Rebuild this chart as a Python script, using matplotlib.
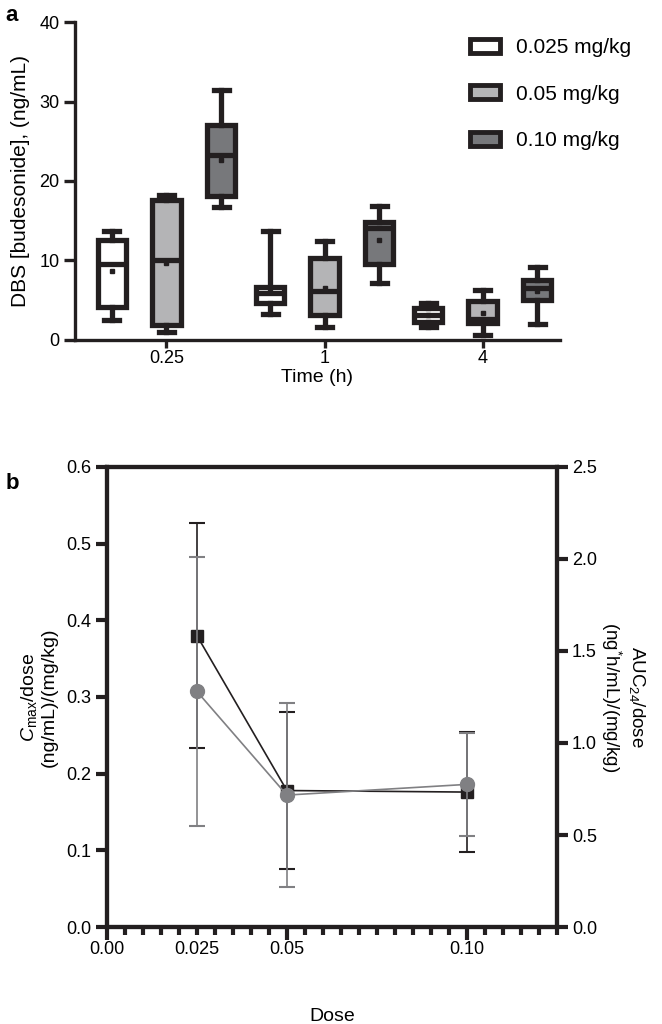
import matplotlib.pyplot as plt
import numpy as np
from matplotlib.patches import Patch
from matplotlib.ticker import FormatStrFormatter, MultipleLocator

plt.rcParams["font.family"] = ["Liberation Sans", "DejaVu Sans"]
plt.rcParams["font.size"] = 13
plt.rcParams["mathtext.fontset"] = "custom"
plt.rcParams["mathtext.rm"] = "Liberation Sans"
plt.rcParams["mathtext.it"] = "Liberation Sans:italic"

INK = "#231f20"

# panel a: box statistics per time point, per dose
time_labels = ["0.25", "1", "4"]
dose_labels = ["0.025 mg/kg", "0.05 mg/kg", "0.10 mg/kg"]
box_colors = ["#ffffff", "#b4b4b6", "#77787b"]

# rows: time points; columns: doses
whislo = [[2.5, 1.0, 16.7], [3.3, 1.6, 7.2], [1.6, 0.65, 2.0]]
q1 = [[4.15, 1.85, 18.1], [4.7, 3.2, 9.5], [2.3, 2.15, 5.0]]
med = [[9.6, 10.1, 23.3], [5.9, 6.1, 14.1], [3.1, 2.6, 6.6]]
q3 = [[12.6, 17.6, 27.1], [6.7, 10.25, 14.8], [4.0, 4.95, 7.6]]
whishi = [[13.7, 18.3, 31.4], [13.7, 12.5, 16.8], [4.6, 6.3, 9.2]]
mean = [[8.7, 9.7, 22.7], [6.0, 6.6, 12.6], [3.2, 3.35, 6.1]]

# panel b: dose-normalised PK parameters
dose = [0.025, 0.05, 0.10]
cmax_dose = [0.38, 0.178, 0.176]
cmax_err = [0.147, 0.102, 0.078]
auc_dose = [1.28, 0.717, 0.775]
auc_err = [0.73, 0.50, 0.28]

fig = plt.figure(figsize=(6.62, 10.24), dpi=100)

# ---------------- panel a ----------------
ax = fig.add_axes([0.113, 0.668, 0.733, 0.3105])
offsets = [-0.345, 0.0, 0.345]
for t in range(len(time_labels)):
    for d in range(len(dose_labels)):
        stats = [{
            "whislo": whislo[t][d], "q1": q1[t][d], "med": med[t][d],
            "q3": q3[t][d], "whishi": whishi[t][d], "mean": mean[t][d],
            "fliers": [],
        }]
        ax.bxp(stats, positions=[t + offsets[d]], widths=0.18,
               patch_artist=True, showmeans=True, capwidths=0.095,
               boxprops=dict(facecolor=box_colors[d], edgecolor=INK, linewidth=3.8),
               medianprops=dict(color=INK, linewidth=3.8),
               whiskerprops=dict(color=INK, linewidth=3.8),
               capprops=dict(color=INK, linewidth=3.8),
               meanprops=dict(marker="s", markersize=3.5, markerfacecolor=INK,
                              markeredgecolor=INK))

ax.set_xlim(-0.58, 2.49)
ax.set_ylim(0, 40)
ax.set_xticks(range(len(time_labels)))
ax.set_xticklabels(time_labels)
ax.set_yticks([0, 10, 20, 30, 40])
ax.spines["top"].set_visible(False)
ax.spines["right"].set_visible(False)
for s in ["left", "bottom"]:
    ax.spines[s].set_linewidth(2.4)
    ax.spines[s].set_color(INK)
ax.tick_params(axis="y", width=2.4, length=8, color=INK, labelsize=13, pad=3)
ax.tick_params(axis="x", width=2.4, length=6, color=INK, labelsize=13, pad=1)
ax.set_xlabel("Time (h)", fontsize=14, labelpad=2)
ax.set_ylabel("DBS [budesonide], (ng/mL)", fontsize=15, labelpad=7)

handles = [Patch(facecolor=c, edgecolor=INK, linewidth=3.5) for c in box_colors]
fig.legend(handles, dose_labels, loc="upper left", bbox_to_anchor=(0.682, 0.981),
           frameon=False, handlelength=1.45, handleheight=0.65, labelspacing=1.32,
           handletextpad=0.75, fontsize=15)

fig.text(0.008, 0.995, "a", fontsize=16, fontweight="bold", va="top")

# ---------------- panel b ----------------
bx = fig.add_axes([0.1616, 0.0947, 0.6794, 0.4493])
bx2 = bx.twinx()

bx.errorbar(dose, cmax_dose, yerr=cmax_err, color=INK, lw=1.2,
            marker="s", markersize=9, capsize=6, capthick=1.5, elinewidth=1.2, zorder=3)
bx2.errorbar(dose, auc_dose, yerr=auc_err, color="#808083", lw=1.2,
             marker="o", markersize=10, capsize=6, capthick=1.5, elinewidth=1.2, zorder=4)

bx.set_xlim(0, 0.125)
bx.set_ylim(0, 0.6)
bx2.set_ylim(0, 2.5)
bx.set_xticks([0, 0.025, 0.05, 0.10])
bx.set_xticklabels(["0.00", "0.025", "0.05", "0.10"])
bx.xaxis.set_minor_locator(MultipleLocator(0.005))
bx.yaxis.set_major_locator(MultipleLocator(0.1))
bx.yaxis.set_major_formatter(FormatStrFormatter("%.1f"))
bx2.yaxis.set_major_locator(MultipleLocator(0.5))
bx2.yaxis.set_major_formatter(FormatStrFormatter("%.1f"))

for a in (bx, bx2):
    for s in a.spines.values():
        s.set_linewidth(3)
        s.set_color(INK)
bx.tick_params(axis="y", width=3, length=8, color=INK, labelsize=13, pad=3)
bx2.tick_params(axis="y", width=3, length=8, color=INK, labelsize=13, pad=3)
bx.tick_params(axis="x", which="major", width=3, length=9, color=INK, labelsize=13, pad=1)
bx.tick_params(axis="x", which="minor", width=3, length=6, color=INK)
# 0.025 carries a label but only a short tick
bx.xaxis.get_major_ticks()[1].tick1line.set_markersize(6)

bx.set_xlabel("Dose", fontsize=14, labelpad=36)
bx.set_ylabel("$C_{\\mathrm{max}}$/dose\n(ng/mL)/(mg/kg)", fontsize=14, labelpad=6)
bx2.set_ylabel("AUC$_{24}$/dose\n(ng$^{*}$h/mL)/(mg/kg)", fontsize=13.5,
               rotation=-90, labelpad=36)

fig.text(0.008, 0.538, "b", fontsize=16, fontweight="bold", va="top")

fig.savefig("out.png", dpi=100)
